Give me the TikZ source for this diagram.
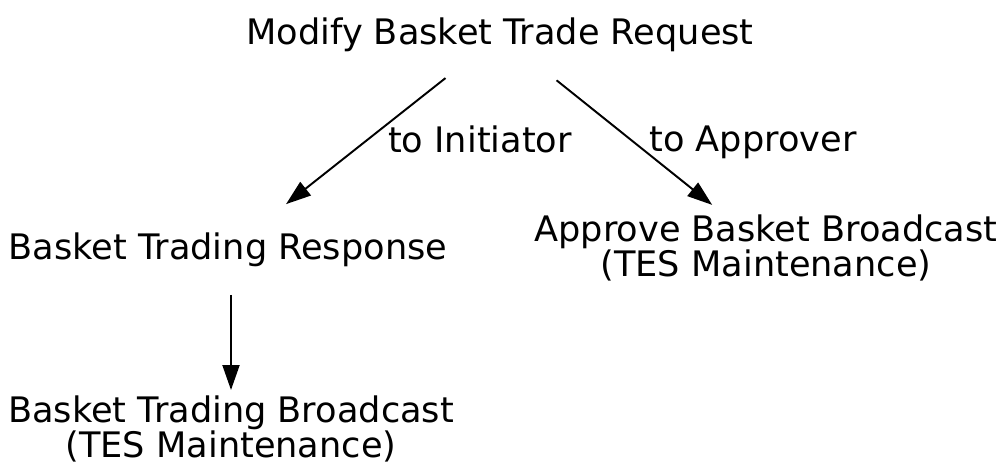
\documentclass[tikz,border=0pt]{standalone}
\usepackage{fontspec}
\setmainfont{DejaVu Sans}
\usetikzlibrary{arrows.meta}
\tikzset{
    msg/.style={align=center, inner sep=0pt, font=\fontsize{20}{20.4}\selectfont},
    arr/.style={-{Triangle[length=0.5cm, width=0.34cm]}, line width=1.1pt}
}
\begin{document}
\begin{tikzpicture}[x=0.02cm, y=-0.02cm]
    \useasboundingbox (0,0) rectangle (1004,463);
    \node[msg] (modify) at (500,35) {Modify Basket Trade Request};
    \node[msg] (resp) at (228,250) {Basket Trading Response};
    \node[msg] (approve) at (766,248) {Approve Basket Broadcast\\(TES Maintenance)};
    \node[msg] (bcast) at (231,429) {Basket Trading Broadcast\\(TES Maintenance)};
    \draw[arr, shorten <=1.39cm, shorten >=1.48cm] (modify.center) -- (resp.center);
    \draw[arr, shorten <=1.45cm, shorten >=1.38cm] (modify.center) -- (approve.center);
    \draw[arr, shorten <=0.9cm, shorten >=0.78cm] (bcast.center |- resp.center) -- (bcast.center);
    \node[msg] (toinit) at (480,139) {to Initiator};
    \node[msg] (toappr) at (753,142) {to Approver};
\end{tikzpicture}
\end{document}
